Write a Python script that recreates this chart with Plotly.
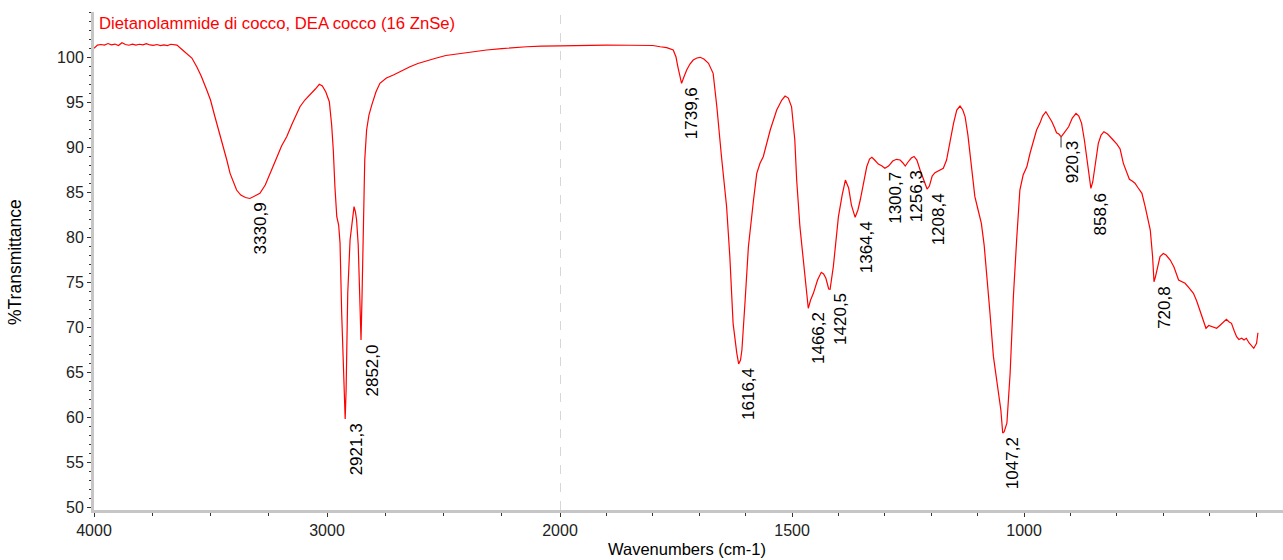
import plotly.graph_objects as go

# ---------------- data ----------------
TITLE = "Dietanolammide di cocco, DEA cocco (16 ZnSe)"
X_TITLE = "Wavenumbers (cm-1)"
Y_TITLE = "%Transmittance"

# high-wavenumber part of the spectrum (4000 -> 2000 cm-1)
wn_high = [4000, 3985, 3970, 3955, 3940, 3925, 3910, 3895, 3880, 3865, 3850, 3835, 3820,
           3805, 3790, 3775, 3760, 3745, 3730, 3715, 3700, 3685, 3670, 3655, 3644, 3620,
           3602, 3580, 3559, 3540, 3516, 3500, 3481, 3462, 3445, 3430, 3416, 3400, 3388,
           3370, 3350, 3331, 3310, 3288, 3265, 3245, 3220, 3195, 3173, 3150, 3130, 3116,
           3095, 3073, 3050, 3033, 3020, 3005, 2990, 2980, 2973, 2966, 2958, 2950, 2944,
           2937, 2930, 2926, 2922, 2918, 2911, 2901, 2892, 2884, 2878, 2873, 2866, 2862,
           2858, 2854, 2850, 2846, 2842, 2838, 2830, 2820, 2808, 2790, 2773, 2745, 2715,
           2680, 2644, 2610, 2572, 2530, 2490, 2429, 2370, 2315, 2250, 2200, 2143, 2080, 2000]
t_high = [100.97, 101.33, 101.39, 101.33, 101.50, 101.35, 101.44, 101.28, 101.58, 101.39,
          101.31, 101.44, 101.33, 101.42, 101.35, 101.49, 101.34, 101.30, 101.39, 101.28,
          101.35, 101.27, 101.42, 101.39, 101.33, 100.78, 100.41, 99.89, 98.92, 97.89,
          96.34, 95.23, 93.37, 91.68, 90.04, 88.57, 87.09, 86.02, 85.24, 84.68, 84.41,
          84.30, 84.57, 84.87, 85.79, 87.09, 88.57, 90.12, 91.15, 92.56, 93.78, 94.48,
          95.23, 95.78, 96.45, 96.97, 96.78, 96.12, 95.04, 92.45, 89.68, 85.60, 82.28,
          81.35, 79.32, 71.55, 66.37, 63.04, 59.82, 63.04, 73.77, 79.69, 81.69, 83.39,
          82.80, 81.91, 79.13, 75.25, 69.70, 68.59, 73.03, 79.69, 85.24, 88.57, 91.90,
          93.56, 94.67, 96.12, 97.08, 97.67, 98.00, 98.50, 98.92, 99.28, 99.59, 99.89,
          100.17, 100.41, 100.61, 100.78, 100.94, 101.05, 101.14, 101.22, 101.25]

# low-wavenumber part of the spectrum (2000 -> ~500 cm-1)
wn_low = [2000, 1950, 1900, 1850, 1800, 1784, 1770, 1756, 1750, 1746, 1742, 1738, 1733,
          1727, 1720, 1713, 1705, 1698, 1690, 1680, 1670, 1662, 1652, 1641, 1634, 1627,
          1619, 1615, 1611, 1608, 1601, 1594, 1583, 1576, 1569, 1562, 1547, 1533, 1522,
          1515, 1508, 1501, 1494, 1490, 1483, 1476, 1469, 1465, 1460, 1454, 1445, 1437,
          1432, 1427, 1421, 1418, 1411, 1400, 1392, 1385, 1378, 1372, 1364, 1358, 1353,
          1346, 1339, 1333, 1328, 1322, 1314, 1306, 1300, 1292, 1283, 1275, 1267, 1261,
          1256, 1250, 1243, 1237, 1231, 1224, 1216, 1209, 1204, 1198, 1192, 1183, 1174,
          1167, 1163, 1157, 1152, 1145, 1138, 1132, 1127, 1121, 1116, 1111, 1106, 1099,
          1092, 1086, 1081, 1074, 1066, 1060, 1055, 1050, 1046, 1043, 1037, 1033, 1030,
          1026, 1023, 1016, 1009, 1002, 994, 987, 980, 973, 966, 960, 953, 947, 940, 934,
          930, 925, 920, 914, 909, 904, 896, 888, 882, 876, 870, 865, 860, 856, 852, 847,
          840, 834, 828, 820, 814, 808, 800, 793, 786, 780, 773, 767, 761, 754, 746, 739,
          733, 728, 723, 720, 717, 713, 707, 700, 694, 685, 677, 667, 660, 653, 644, 635,
          628, 624, 616, 608, 602, 596, 590, 585, 577, 569, 564, 558, 553, 547, 542, 537,
          531, 526, 521, 515, 510, 505, 501, 499, 496]
t_low = [101.25, 101.30, 101.33, 101.31, 101.28, 101.14, 101.05, 100.78, 100.00, 98.92,
         97.89, 97.08, 97.78, 98.56, 99.22, 99.67, 99.89, 99.97, 99.78, 99.30, 98.19,
         94.48, 88.93, 83.39, 77.84, 70.44, 67.11, 65.93, 66.37, 67.48, 73.03, 78.95,
         84.13, 87.09, 88.20, 88.93, 91.90, 94.12, 95.23, 95.67, 95.45, 94.48, 90.79,
         86.35, 81.17, 77.84, 73.77, 72.11, 73.03, 73.77, 75.25, 76.10, 75.92, 75.44,
         74.25, 74.22, 76.73, 82.28, 84.68, 86.35, 85.46, 83.57, 82.21, 83.02, 84.13,
         86.13, 87.82, 88.68, 88.87, 88.57, 88.12, 87.90, 87.65, 87.90, 88.46, 88.65,
         88.57, 88.24, 87.90, 88.35, 88.79, 88.96, 88.57, 87.46, 86.35, 85.35, 85.68,
         86.79, 87.16, 87.40, 87.65, 88.57, 89.68, 91.34, 92.64, 94.12, 94.56, 94.12,
         93.37, 91.34, 88.93, 86.57, 84.50, 83.02, 81.54, 79.13, 76.36, 71.92, 66.74,
         64.60, 63.04, 60.82, 58.27, 58.38, 59.35, 61.93, 64.90, 69.70, 73.40, 79.69,
         85.24, 86.90, 87.82, 89.35, 90.79, 91.90, 92.64, 93.45, 93.93, 93.45, 92.82,
         92.12, 91.60, 91.45, 91.15, 91.56, 91.90, 92.26, 93.23, 93.75, 93.45, 92.64,
         90.79, 88.93, 86.79, 85.43, 86.13, 87.82, 90.42, 91.34, 91.71, 91.45, 91.07,
         90.79, 90.34, 89.79, 88.20, 87.35, 86.43, 86.24, 86.00, 85.46, 84.87, 83.39,
         82.13, 80.80, 77.84, 75.06, 75.58, 76.36, 77.84, 78.19, 78.02, 77.47, 76.69,
         75.25, 75.03, 74.88, 74.36, 73.77, 72.92, 72.29, 71.03, 69.89, 70.20, 70.07,
         70.03, 69.89, 70.26, 70.64, 70.89, 70.59, 70.44, 69.59, 68.96, 68.65, 68.78,
         68.59, 68.78, 68.26, 67.92, 67.67, 68.04, 68.22, 69.40]

# labelled peaks
peak_wn = [3330.9, 2921.3, 2852.0, 1739.6, 1616.4, 1466.2, 1420.5, 1364.4, 1300.7,
           1256.3, 1208.4, 1047.2, 920.3, 858.6, 720.8]
peak_t = [84.30, 59.82, 68.59, 97.08, 65.93, 72.11, 74.25, 82.21, 87.65,
          87.90, 85.35, 58.27, 91.15, 85.43, 75.06]
peak_text = ["3330,9", "2921,3", "2852,0", "1739,6", "1616,4", "1466,2", "1420,5", "1364,4",
             "1300,7", "1256,3", "1208,4", "1047,2", "920,3", "858,6", "720,8"]

x_high_ticks = [4000, 3000, 2000]
x_low_ticks = [1500, 1000, 500]
x_low_ticktext = ["1500", "1000", ""]
y_ticks = [50, 55, 60, 65, 70, 75, 80, 85, 90, 95, 100]

# ---------------- figure ----------------
FONT = "Liberation Sans, Arial, sans-serif"
RED = "#ff0000"
AXIS_GREY = "#c6c6c6"
TICK_COL = "#333333"
W, H = 1283, 560
ML, MR, MT, MB = 94, 0, 12, 50
PW, PH = W - ML - MR, H - MT - MB

fig = go.Figure()
fig.add_trace(go.Scatter(x=wn_high, y=t_high, mode="lines", xaxis="x", yaxis="y",
                         line=dict(color=RED, width=1.2), hoverinfo="x+y", showlegend=False))
fig.add_trace(go.Scatter(x=wn_low, y=t_low, mode="lines", xaxis="x2", yaxis="y",
                         line=dict(color=RED, width=1.2), hoverinfo="x+y", showlegend=False))

split = (560 - ML) / PW

common_x = dict(showline=True, linecolor=AXIS_GREY, linewidth=3, showgrid=False,
                zeroline=False, ticks="outside", ticklen=4, tickcolor=TICK_COL, tickwidth=1,
                automargin=False,
                tickfont=dict(family=FONT, size=16, color="#222222"), anchor="y")

fig.update_layout(
    width=W, height=H, autosize=False,
    margin=dict(l=ML, r=MR, t=MT, b=MB, pad=0),
    paper_bgcolor="white", plot_bgcolor="white",
    xaxis=dict(domain=[0, split], range=[4000, 2000], tickvals=x_high_ticks,
               minor=dict(dtick=250, ticks="outside", ticklen=3, tickcolor=TICK_COL),
               **common_x),
    xaxis2=dict(domain=[split, 1], range=[2000, 442], tickvals=x_low_ticks,
                ticktext=x_low_ticktext,
                minor=dict(dtick=100, ticks="outside", ticklen=3, tickcolor=TICK_COL),
                **common_x),
    yaxis=dict(range=[49.72, 105.0], tickvals=y_ticks, showline=True, linecolor=AXIS_GREY,
               linewidth=3, showgrid=False, zeroline=False, ticks="outside", ticklen=4,
               tickcolor=TICK_COL, tickwidth=1, automargin=False,
               minor=dict(dtick=1, ticks="outside", ticklen=2, tickcolor=TICK_COL),
               tickfont=dict(family=FONT, size=16, color="#222222")),
)

# dashed marker of the scale change at 2000 cm-1
fig.add_shape(type="line", xref="x2", yref="paper", x0=2000, x1=2000, y0=0, y1=1,
              line=dict(color="#b0b0b0", width=1, dash="dash"))

# leader tick under the 920,3 label
fig.add_shape(type="line", xref="x2", yref="y", x0=920.3, x1=920.3,
              y0=peak_t[12], y1=peak_t[12] - 1.2, line=dict(color="#777777", width=1.5))

# peak labels
for w, t, s in zip(peak_wn, peak_t, peak_text):
    fig.add_annotation(x=w, y=t, xref="x" if w > 2000 else "x2", yref="y", text=s,
                       showarrow=False, textangle=-90, xanchor="center", yanchor="top",
                       xshift=11, yshift=-2,
                       font=dict(family=FONT, size=17, color="#000000"))

# chart title (red, inside the plot)
fig.add_annotation(x=(97 - ML) / PW, y=1 - (24 - MT) / PH, xref="paper", yref="paper",
                   text=TITLE, showarrow=False, xanchor="left", yanchor="middle",
                   font=dict(family=FONT, size=16.7, color=RED))

# axis titles
fig.add_annotation(x=(687 - ML) / PW, y=-(549 - (H - MB)) / PH, xref="paper", yref="paper",
                   text=X_TITLE, showarrow=False, xanchor="center", yanchor="middle",
                   font=dict(family=FONT, size=16.5, color="#000000"))
fig.add_annotation(x=(15 - ML) / PW, y=1 - (262 - MT) / PH, xref="paper", yref="paper",
                   text=Y_TITLE, showarrow=False, textangle=-90, xanchor="center",
                   yanchor="middle", font=dict(family=FONT, size=17.5, color="#000000"))

fig.write_html(
    "out.html",
    config={"responsive": False, "displayModeBar": False},
    post_script="document.body.style.margin='0';document.body.style.overflow='hidden';",
)
